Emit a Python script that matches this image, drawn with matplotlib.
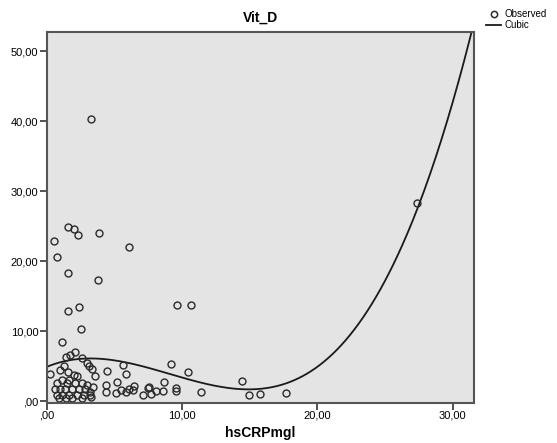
import numpy as np
import matplotlib.pyplot as plt
from matplotlib.lines import Line2D

plt.rcParams['font.family'] = ['Liberation Sans', 'DejaVu Sans']

crp = [3.25,
       1.55, 1.99, 2.34, 3.89, 0.54, 6.11, 0.74, 1.57, 3.82, 1.55, 2.41, 2.54, 9.61, 10.66,
       27.39,
       1.13, 2.07, 1.75, 1.43, 2.61, 3.00, 3.15, 3.32, 1.26, 1.00, 0.27, 1.57, 1.99, 2.24,
       3.57, 4.43, 5.66, 5.86, 9.16, 10.42,
       1.13, 1.62, 0.76, 1.50, 2.12, 2.61,
       0.64, 1.00, 1.38, 1.87, 2.36, 2.85,
       0.76, 1.13, 1.62, 2.24, 2.73, 3.22,
       0.90, 1.40, 1.90, 2.60, 3.30,
       3.20, 3.40, 2.95,
       4.38, 5.22, 4.41, 5.15, 5.47, 5.89, 6.08, 6.38, 6.45,
       7.09, 7.51, 7.69, 7.58, 8.08, 8.62, 8.69, 9.56, 9.56, 11.40,
       14.46, 14.98, 15.77, 17.69]
vitd = [40.34,
        24.96, 24.57, 23.77, 24.10, 22.86, 22.10, 20.63, 18.39, 17.29, 12.91, 13.43, 10.39, 13.77, 13.77,
        28.34,
        8.43, 7.00, 6.67, 6.33, 6.20, 5.49, 5.10, 4.63, 5.00, 4.50, 3.90, 4.14, 3.81, 3.57,
        3.67, 4.34, 5.14, 3.86, 5.39, 4.14,
        3.10, 3.10, 2.60, 2.60, 2.60, 2.60,
        1.74, 1.74, 1.74, 1.74, 1.74, 1.74,
        0.96, 0.96, 0.96, 0.96, 0.96, 0.96,
        0.50, 0.50, 0.50, 0.55, 0.60,
        1.40, 2.10, 2.30,
        2.29, 2.71, 1.29, 1.20, 1.57, 1.29, 1.77, 1.67, 2.14,
        0.86, 1.91, 1.06, 2.00, 1.53, 1.53, 2.77, 1.91, 1.43, 1.39,
        2.96, 0.96, 1.06, 1.20]

# points on the cubic line
cub_x = [0.0, 1.48, 2.46, 3.94, 5.17, 6.40, 7.63, 8.87, 10.10, 11.33, 12.31, 14.78, 17.24,
         19.70, 20.94, 22.17, 23.65, 25.87, 27.39, 28.33, 28.94, 30.79, 31.48]
cub_y = [5.14, 5.86, 6.05, 5.96, 5.62, 5.14, 4.62, 4.05, 3.48, 2.86, 2.53, 1.91, 2.63,
         4.29, 6.91, 8.34, 12.14, 20.24, 28.34, 32.60, 35.96, 48.80, 52.80]

xticks = [0, 10, 20, 30]
yticks = [0, 10, 20, 30, 40, 50]

fig = plt.figure(figsize=(5.57, 4.43), dpi=100)
ax = fig.add_axes([0.0838, 0.0914, 0.851 - 0.0838, 0.928 - 0.0914])
ax.set_facecolor('#e4e4e4')

# smooth cubic through the line points
coef = np.polyfit(cub_x, cub_y, 3)
xs = np.linspace(0, 31.6, 300)
ax.plot(xs, np.polyval(coef, xs), color='#1a1a1a', lw=1.3)
ax.plot(crp, vitd, 'o', mfc='none', mec='#2a2a2a', ms=5, mew=1.0)

ax.set_xlim(0, 31.58)
ax.set_ylim(-0.15, 52.8)
ax.set_xticks(xticks)
ax.set_yticks(yticks)
ax.set_xticklabels([('%.2f' % v).replace('.', ',').lstrip('0') for v in xticks])
ax.set_yticklabels([('%.2f' % v).replace('.', ',').lstrip('0') for v in yticks])
ax.tick_params(direction='out', length=5, width=1.2, color='#333333', labelsize=8, pad=1)
for s in ax.spines.values():
    s.set_color('#555555')
    s.set_linewidth(1.5)

ax.set_title('Vit_D', fontsize=10, fontweight='bold', pad=7)
ax.set_xlabel('hsCRPmgl', fontsize=10, fontweight='bold', labelpad=4)

handles = [Line2D([], [], ls='none', marker='o', mfc='none', mec='#2a2a2a', ms=4.5, mew=1.1),
           Line2D([], [], color='#1a1a1a', lw=1.3)]
fig.legend(handles, ['Observed', 'Cubic'], loc='upper left', bbox_to_anchor=(0.86, 0.995),
           frameon=False, fontsize=7, handlelength=1.6, handletextpad=0.3, labelspacing=0.1,
           borderpad=0.2)

fig.savefig('out.png', dpi=100)
